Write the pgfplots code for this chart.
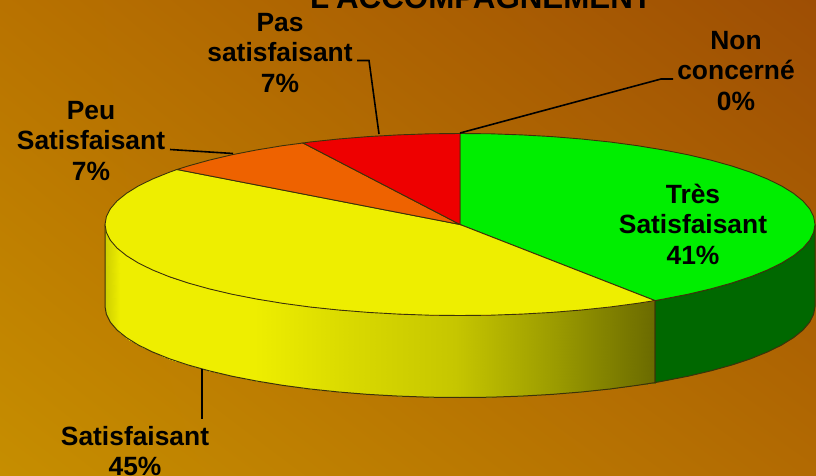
\documentclass[border=0pt]{standalone}
\usepackage{pgfplots}
\usetikzlibrary{shadings}
\pgfplotsset{compat=1.18}
\usepackage{fontspec}
\setmainfont{Liberation Sans}
\definecolor{cgreen}{RGB}{0,238,0}
\definecolor{cgreenside}{RGB}{0,104,0}
\definecolor{cyellow}{RGB}{238,238,0}
\definecolor{corange}{RGB}{238,98,0}
\definecolor{cred}{RGB}{238,0,0}
\definecolor{edge}{RGB}{60,50,10}
\definecolor{bgul}{RGB}{184,114,0}
\definecolor{bgur}{RGB}{158,78,4}
\definecolor{bgll}{RGB}{198,142,0}
\definecolor{bglr}{RGB}{178,106,2}
\tikzset{lab/.style={font=\fontsize{26.4}{30.5}\selectfont\bfseries, align=center, text=black, inner sep=0pt}}
\begin{document}
\begin{tikzpicture}
\begin{axis}[
  scale only axis, width=816pt, height=476pt,
  xmin=0, xmax=816, ymin=0, ymax=476, y dir=reverse,
  hide axis, clip=false,
  colormap={wall}{rgb255(0pt)=(205,205,0); rgb255(15pt)=(238,238,0); rgb255(150pt)=(238,238,0); rgb255(240pt)=(218,218,0); rgb255(350pt)=(198,198,0); rgb255(450pt)=(155,155,0); rgb255(550pt)=(106,106,0)},
  point meta min=105, point meta max=655,
]
\shade[upper left=bgul, upper right=bgur, lower left=bgll, lower right=bglr]
  (axis cs:0,0) rectangle (axis cs:816,476);

% title, clipped by the page top
\node[overlay, anchor=base, font=\fontsize{31.3}{31.3}\selectfont\bfseries] at (axis cs:481,9) {L'ACCOMPAGNEMENT};

% wall of the yellow slice
\addplot[surf, shader=interp, point meta=x] table {
655 300.6
637.5 303.3
610 307
581.4 310
551.9 312.4
521.6 314.1
491 315.2
460 315.5
429 315.2
398.4 314.1
368.1 312.4
338.6 310
310 307
282.5 303.3
256.4 299
231.8 294.2
209 288.8
188.1 283
169.2 276.7
152.6 270
138.3 263
126.4 255.6
117.1 248.1
110.4 240.3
106.4 232.4
105 224.5

655 382.6
637.5 385.3
610 389
581.4 392
551.9 394.4
521.6 396.1
491 397.2
460 397.5
429 397.2
398.4 396.1
368.1 394.4
338.6 392
310 389
282.5 385.3
256.4 381
231.8 376.2
209 370.8
188.1 365
169.2 358.7
152.6 352
138.3 345
126.4 337.6
117.1 330.1
110.4 322.3
106.4 314.4
105 306.5
};
\addplot[draw=edge, line width=1pt] coordinates {
(655,300.6)(655,382.6)(637.5,385.3)(610,389)(581.4,392)(551.9,394.4)(521.6,396.1)(491,397.2)(460,397.5)(429,397.2)(398.4,396.1)(368.1,394.4)(338.6,392)(310,389)(282.5,385.3)(256.4,381)(231.8,376.2)(209,370.8)(188.1,365)(169.2,358.7)(152.6,352)(138.3,345)(126.4,337.6)(117.1,330.1)(110.4,322.3)(106.4,314.4)(105,306.5)(105,224.5)};
% wall of the green slice
\addplot[fill=cgreenside, draw=edge, line width=1pt] coordinates {
(815,224.5)(813.6,232.4)(809.6,240.3)(802.9,248.1)(793.6,255.6)(781.7,263)(767.4,270)(750.8,276.7)(731.9,283)(711,288.8)(688.2,294.2)(663.6,299)(655,300.6)
(655,382.6)(663.6,381)(688.2,376.2)(711,370.8)(731.9,365)(750.8,358.7)(767.4,352)(781.7,345)(793.6,337.6)(802.9,330.1)(809.6,322.3)(813.6,314.4)(815,306.5)} -- cycle;
% top: green
\addplot[fill=cgreen, draw=edge, line width=0.9pt] coordinates {
(460,224.5)(460,133.5)(491,133.8)(521.6,134.9)(551.9,136.6)(581.4,139)(610,142)(637.5,145.7)(663.6,150)(688.2,154.8)(711,160.2)(731.9,166)(750.8,172.3)(767.4,179)(781.7,186)(793.6,193.4)(802.9,200.9)(809.6,208.7)(813.6,216.6)(815,224.5)(813.6,232.4)(809.6,240.3)(802.9,248.1)(793.6,255.6)(781.7,263)(767.4,270)(750.8,276.7)(731.9,283)(711,288.8)(688.2,294.2)(663.6,299)(655,300.6)} -- cycle;
% top: yellow
\addplot[fill=cyellow, draw=edge, line width=0.9pt] coordinates {
(460,224.5)(655,300.6)(637.5,303.3)(610,307)(581.4,310)(551.9,312.4)(521.6,314.1)(491,315.2)(460,315.5)(429,315.2)(398.4,314.1)(368.1,312.4)(338.6,310)(310,307)(282.5,303.3)(256.4,299)(231.8,294.2)(209,288.8)(188.1,283)(169.2,276.7)(152.6,270)(138.3,263)(126.4,255.6)(117.1,248.1)(110.4,240.3)(106.4,232.4)(105,224.5)(106.4,216.6)(110.4,208.7)(117.1,200.9)(126.4,193.4)(138.3,186)(152.6,179)(169.2,172.3)(177,169.5)} -- cycle;
% top: orange
\addplot[fill=corange, draw=edge, line width=0.9pt] coordinates {
(460,224.5)(177,169.5)(188.1,166)(209,160.2)(231.8,154.8)(256.4,150)(282.5,145.7)(303,143)} -- cycle;
% top: red
\addplot[fill=cred, draw=edge, line width=0.9pt] coordinates {
(460,224.5)(303,143)(310,142)(338.6,139)(368.1,136.6)(398.4,134.9)(429,133.8)(460,133.5)} -- cycle;

% leader lines
\addplot[black, line width=1.6pt] coordinates {(357,60.5)(369,60.5)(379,134)};
\addplot[black, line width=1.6pt] coordinates {(460,133)(661,79)(673,79)};
\addplot[black, line width=1.6pt] coordinates {(170,149.5)(233,153.5)};
\addplot[black, line width=1.6pt] coordinates {(202,369)(202,419)};

% labels
\node[lab] at (axis cs:280,53) {Pas\\satisfaisant\\7\%};
\node[lab] at (axis cs:91,141) {Peu\\Satisfaisant\\7\%};
\node[lab] at (axis cs:736,71) {Non\\concerné\\0\%};
\node[lab] at (axis cs:693,224) {Très\\Satisfaisant\\41\%};
\node[lab, overlay] at (axis cs:135,451) {Satisfaisant\\45\%};
\end{axis}
\end{tikzpicture}
\end{document}
